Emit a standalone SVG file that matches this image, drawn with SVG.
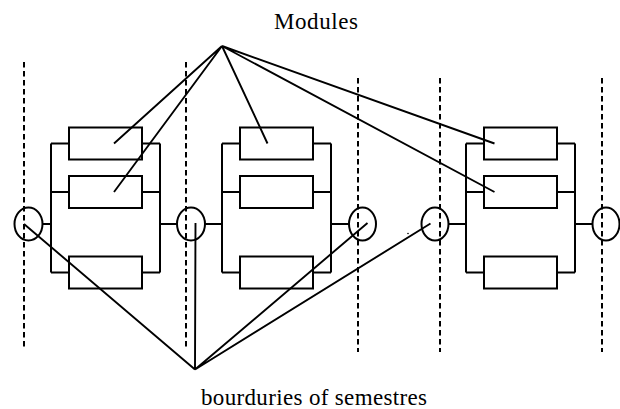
<svg xmlns="http://www.w3.org/2000/svg" width="620" height="409" viewBox="0 0 620 409">
  <style>
    .bound { fill: none; stroke: #000; stroke-width: 2; stroke-dasharray: 5.5 3.5; }
    .box { fill: #fff; stroke: #000; stroke-width: 2; }
    .wire { fill: none; stroke: #000; stroke-width: 2; }
    .node { fill: none; stroke: #000; stroke-width: 2; }
    .ptr { fill: none; stroke: #000; stroke-width: 1.9; }
    .lbl { font-size: 23px; fill: #000; }
  </style>
  <defs>
    <!-- one module block: three parallel boxes between two rails -->
    <g id="block">
      <path class="wire" d="M0,143.5 V272.5 M109,143.5 V272.5 M0,143.5 H18 M91,143.5 H109 M0,192 H18 M91,192 H109 M0,272.5 H18 M91,272.5 H109"/>
      <rect class="box" x="18" y="127.5" width="73" height="32"/>
      <rect class="box" x="18" y="176" width="73" height="32"/>
      <rect class="box" x="18" y="256.5" width="73" height="32"/>
    </g>
  </defs>

  <!-- semester boundaries -->
  <g id="boundaries">
    <line class="bound" x1="24" y1="62" x2="24" y2="350"/>
    <line class="bound" x1="186" y1="62" x2="186" y2="350"/>
    <line class="bound" x1="358" y1="78" x2="358" y2="352"/>
    <line class="bound" x1="440" y1="78" x2="440" y2="352"/>
    <line class="bound" x1="602" y1="78" x2="602" y2="352"/>
  </g>

  <!-- chain wiring between nodes and blocks -->
  <g id="chain">
    <path class="wire" d="M42.5,224 H51 M160,224 H177 M205,224 H222 M331,224 H349 M449,224 H466 M575,224 H592"/>
  </g>

  <g id="module-block-1"><use href="#block" x="51"/></g>
  <g id="module-block-2"><use href="#block" x="222"/></g>
  <g id="module-block-3"><use href="#block" x="466"/></g>

  <g id="node-1"><ellipse class="node" cx="28.5" cy="224" rx="14" ry="16.5"/></g>
  <g id="node-2"><ellipse class="node" cx="191" cy="224" rx="14" ry="16.5"/></g>
  <g id="node-3"><ellipse class="node" cx="362.5" cy="224" rx="13.5" ry="16.5"/></g>
  <g id="node-4"><ellipse class="node" cx="435" cy="224" rx="13.5" ry="16.5"/></g>
  <g id="node-5"><ellipse class="node" cx="606" cy="224" rx="13.5" ry="16.5"/></g>

  <!-- callout lines -->
  <g id="connectors">
    <path class="ptr" d="M222,46 L114,143.5 M222,46 L114,192 M222,46 L267.5,143.5 M222,46 L494.5,143.5 M222,46 L494.5,192"/>
    <path class="ptr" d="M195,369.5 L24,224 M195,369.5 L195.5,223 M195,369.5 L367.5,223 M195,369.5 L430.5,223.5"/>
    <circle cx="408" cy="233.5" r="0.8" fill="#000"/>
  </g>

  <g id="labels">
    <text class="lbl" font-family="'Liberation Serif', 'DejaVu Serif', serif" x="274" y="28.5" textLength="84">Modules</text>
    <text class="lbl" font-family="'Liberation Serif', 'DejaVu Serif', serif" x="201" y="404.5" textLength="226">bourduries of semestres</text>
  </g>
</svg>
